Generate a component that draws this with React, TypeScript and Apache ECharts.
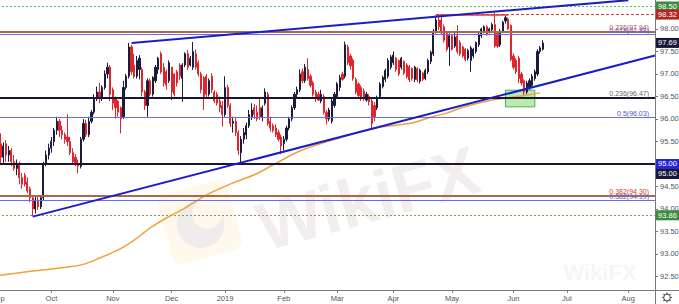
import React, { useEffect, useRef } from "react";
import * as echarts from "echarts";

// ---------- data ----------
const START_DAY = "2018-09-03";
const END_DAY = "2019-08-15";
const HOLIDAYS = ["2018-12-25", "2019-01-01"];

const monthTickDates = ["2018-09-03", "2018-10-01", "2018-11-01", "2018-12-03", "2019-01-02", "2019-02-01", "2019-03-01", "2019-04-01", "2019-05-01", "2019-06-03", "2019-07-01", "2019-08-01"];
const monthTickLabels = ["Sep", "Oct", "Nov", "Dec", "2019", "Feb", "Mar", "Apr", "May", "Jun", "Jul", "Aug"];
const yTickValues = [92.5, 93, 93.5, 94, 94.5, 95, 95.5, 96, 96.5, 97, 97.5, 98, 98.5];
// tick labels that are not hidden behind a price badge
const yLabelValues = [92.5, 93, 93.5, 94, 94.5, 95.5, 96, 96.5, 97, 97.5, 98];

// [open, close, low, high]
const candles = [
  [95.20, 95.45, 95.10, 95.55], [95.45, 95.15, 95.02, 95.68], [95.15, 95.40, 95.00, 95.48], [95.45, 95.20, 95.05, 95.53], [95.20, 95.30, 95.05, 95.40],
  [95.30, 95.05, 94.95, 95.35], [95.05, 94.90, 94.85, 95.20], [94.90, 95.00, 94.75, 95.10], [95.00, 94.70, 94.55, 95.05], [94.70, 94.55, 94.45, 94.80],
  [94.75, 94.55, 94.50, 94.80], [94.60, 94.40, 94.35, 94.70], [94.45, 94.25, 94.15, 94.50], [94.25, 94.00, 93.84, 94.30], [94.00, 94.20, 93.90, 94.30],
  [94.20, 94.05, 93.98, 94.30], [94.05, 94.25, 94.00, 94.30], [94.25, 95.00, 94.20, 95.05], [95.00, 95.20, 94.95, 95.30], [95.20, 95.35, 95.10, 95.45],
  [95.35, 95.50, 95.25, 95.60], [95.50, 95.75, 95.40, 95.80], [95.75, 95.95, 95.65, 96.05], [95.95, 95.75, 95.60, 96.00], [95.75, 95.65, 95.55, 95.85],
  [95.65, 95.55, 95.45, 95.70], [95.60, 95.50, 95.40, 96.10], [95.50, 95.25, 95.20, 95.60], [95.25, 95.05, 95.00, 95.35], [95.15, 95.00, 94.95, 95.22],
  [95.00, 94.95, 94.79, 95.10], [94.95, 95.55, 94.90, 95.60], [95.55, 95.90, 95.50, 96.00], [95.90, 95.65, 95.60, 95.98], [95.65, 95.95, 95.60, 96.05],
  [95.95, 96.15, 95.90, 96.20], [96.15, 96.45, 96.10, 96.55], [96.45, 96.60, 96.40, 96.72], [96.60, 96.45, 96.35, 96.80], [96.45, 96.70, 96.40, 96.75],
  [96.70, 97.00, 96.65, 97.08], [97.00, 97.15, 96.90, 97.25], [97.15, 96.55, 96.40, 97.20], [96.65, 96.35, 96.20, 96.70], [96.45, 96.25, 96.01, 96.50],
  [96.40, 96.15, 96.05, 96.42], [96.25, 96.00, 95.68, 96.28], [96.05, 96.70, 96.00, 96.85], [96.70, 96.95, 96.65, 97.00], [96.95, 97.60, 96.90, 97.69],
  [97.60, 97.05, 96.98, 97.65], [97.20, 96.95, 96.90, 97.45], [96.95, 97.30, 96.90, 97.40], [97.10, 97.35, 96.88, 97.42], [97.10, 96.60, 96.50, 97.15],
  [96.60, 96.30, 96.20, 96.65], [96.30, 96.85, 96.05, 96.90], [96.85, 96.55, 96.50, 96.90], [96.55, 96.92, 96.50, 96.95], [96.85, 97.15, 96.80, 97.20],
  [97.10, 97.35, 97.00, 97.38], [97.45, 97.05, 97.00, 97.50], [97.15, 96.80, 96.72, 97.24], [97.05, 96.75, 96.65, 97.10], [96.85, 97.25, 96.80, 97.30],
  [97.15, 96.60, 96.42, 97.16], [97.00, 96.55, 96.50, 97.02], [97.05, 96.80, 96.72, 97.09], [97.20, 96.95, 96.87, 97.24], [96.90, 97.20, 96.38, 97.24],
  [97.20, 97.45, 97.15, 97.48], [97.45, 97.15, 97.09, 97.53], [97.20, 97.35, 97.17, 97.40], [97.15, 97.50, 97.09, 97.71], [97.45, 97.15, 97.10, 97.55],
  [97.25, 97.00, 96.94, 97.30], [97.00, 96.65, 96.57, 97.05], [96.92, 96.50, 96.20, 96.95], [96.95, 96.55, 96.48, 97.00], [96.55, 96.85, 96.50, 96.90],
  [96.95, 96.65, 96.58, 97.02], [96.60, 96.40, 96.35, 96.64], [96.55, 96.35, 96.30, 96.60], [96.40, 96.25, 96.15, 96.50], [96.30, 96.10, 95.83, 96.40],
  [96.10, 96.70, 96.05, 96.95], [96.70, 96.30, 96.25, 96.76], [96.30, 95.90, 95.82, 96.35], [95.90, 95.95, 95.70, 96.05], [95.95, 95.70, 95.62, 96.05],
  [95.70, 95.30, 95.20, 95.75], [95.25, 95.55, 95.03, 95.62], [95.55, 95.70, 95.45, 95.80], [95.65, 95.85, 95.55, 95.92], [95.85, 96.10, 95.80, 96.20],
  [96.05, 96.20, 95.98, 96.35], [96.25, 96.10, 96.00, 96.33], [96.15, 96.00, 95.95, 96.30], [96.25, 96.05, 95.98, 96.45], [96.05, 96.25, 95.95, 96.30],
  [96.35, 96.60, 96.30, 96.68], [96.55, 95.90, 95.85, 96.60], [95.95, 95.80, 95.72, 96.05], [95.85, 95.75, 95.70, 95.90], [95.80, 95.65, 95.60, 95.88],
  [95.70, 95.55, 95.50, 95.76], [95.60, 95.40, 95.22, 95.65], [95.45, 95.55, 95.30, 95.62], [95.55, 95.80, 95.50, 95.85], [95.80, 96.00, 95.75, 96.05],
  [96.00, 96.25, 95.95, 96.30], [96.25, 96.55, 96.20, 96.60], [96.55, 96.65, 96.45, 96.72], [96.65, 97.00, 96.60, 97.10], [97.05, 96.85, 96.80, 97.12],
  [96.85, 97.15, 96.80, 97.22], [97.10, 96.90, 96.85, 97.35], [96.95, 96.75, 96.70, 97.00], [96.80, 96.55, 96.50, 96.85], [96.60, 96.45, 96.38, 96.65],
  [96.55, 96.42, 96.40, 96.60], [96.40, 96.55, 96.35, 96.65], [96.50, 96.15, 96.10, 96.55], [96.15, 96.00, 95.88, 96.20], [96.00, 96.20, 95.95, 96.25],
  [95.95, 96.40, 95.90, 96.45], [96.30, 96.55, 96.25, 96.60], [96.50, 96.78, 96.45, 96.82], [96.70, 96.92, 96.62, 96.98], [97.00, 96.88, 96.85, 97.05],
  [96.95, 97.65, 96.90, 97.72], [97.60, 97.25, 97.20, 97.65], [97.40, 97.18, 97.10, 97.45], [97.30, 96.90, 96.85, 97.35], [96.88, 96.60, 96.55, 96.92],
  [96.78, 96.52, 96.48, 96.82], [96.70, 96.45, 96.40, 96.75], [96.62, 96.45, 96.40, 96.68], [96.42, 96.55, 96.38, 96.60], [96.50, 96.38, 96.30, 96.55],
  [96.40, 95.90, 95.78, 96.45], [96.30, 96.05, 95.95, 96.38], [96.25, 96.48, 96.20, 96.52], [96.50, 96.78, 96.45, 96.82], [96.72, 96.92, 96.68, 96.96],
  [96.88, 97.08, 96.82, 97.12], [96.95, 97.30, 96.90, 97.35], [97.15, 97.38, 97.10, 97.42], [97.25, 97.42, 97.20, 97.50], [97.35, 97.10, 97.05, 97.38],
  [97.30, 97.00, 96.95, 97.32], [97.15, 97.35, 97.10, 97.38], [97.28, 97.02, 96.98, 97.30], [97.20, 96.94, 96.90, 97.24], [97.16, 96.87, 96.82, 97.20],
  [97.12, 96.90, 96.85, 97.15], [96.88, 97.15, 96.82, 97.18], [97.12, 96.87, 96.82, 97.15], [96.84, 97.08, 96.79, 97.12], [97.02, 96.88, 96.84, 97.05],
  [96.90, 97.08, 96.86, 97.12], [97.05, 97.30, 97.00, 97.34], [97.28, 97.48, 97.22, 97.52], [97.45, 97.95, 97.40, 98.00], [97.95, 98.20, 97.90, 98.30],
  [98.20, 98.05, 97.98, 98.33], [98.20, 97.92, 97.88, 98.28], [98.05, 97.75, 97.70, 98.10], [97.90, 97.55, 97.50, 97.92], [97.60, 97.85, 97.18, 97.90],
  [97.85, 97.55, 97.52, 97.88], [97.62, 97.82, 97.58, 97.92], [97.85, 97.50, 97.45, 98.08], [97.70, 97.45, 97.40, 97.75], [97.60, 97.40, 97.36, 97.63],
  [97.55, 97.32, 97.28, 97.58], [97.35, 97.52, 97.30, 97.56], [97.30, 97.58, 97.05, 97.62], [97.40, 97.55, 97.35, 97.58], [97.50, 97.70, 97.45, 97.72],
  [97.65, 97.88, 97.60, 97.92], [97.85, 98.00, 97.80, 98.03], [97.95, 98.05, 97.90, 98.08], [98.05, 97.88, 97.85, 98.08], [97.92, 98.00, 97.90, 98.03],
  [97.98, 98.10, 97.95, 98.14], [98.10, 97.62, 97.58, 98.37], [97.90, 97.62, 97.58, 97.95], [97.65, 97.95, 97.60, 98.00], [97.95, 98.15, 97.92, 98.18],
  [98.18, 98.25, 98.12, 98.30], [98.22, 98.00, 97.98, 98.25], [98.08, 97.32, 97.28, 98.10], [97.40, 97.15, 97.10, 97.46], [97.30, 97.05, 97.00, 97.35],
  [97.35, 96.90, 96.80, 97.40], [97.00, 96.80, 96.75, 97.05], [96.85, 96.60, 96.53, 96.88], [96.60, 96.80, 96.55, 96.85], [96.70, 96.85, 96.65, 96.90],
  [96.75, 96.95, 96.70, 97.00], [96.90, 97.05, 96.85, 97.10], [97.00, 97.50, 96.95, 97.55], [97.50, 97.58, 97.45, 97.62], [97.55, 97.69, 97.52, 97.75],
];

// 200-day moving average, read at sample bars
const maIdx = [0, 13, 26, 32, 38, 45, 51, 57, 63, 70, 78, 88, 96, 103, 113, 128, 141, 155, 162, 168, 173, 185, 196, 203];
const maVal = [92.52, 92.62, 92.71, 92.77, 92.91, 93.09, 93.31, 93.58, 93.80, 94.02, 94.31, 94.58, 94.76, 94.98, 95.29, 95.58, 95.80, 95.91, 96.04, 96.13, 96.24, 96.42, 96.51, 96.58];

const fibValues = [97.94, 97.88, 96.47, 96.03, 94.30, 94.19];
const fibLabels = ["0.236(97.94)", "0.618(97.88)", "0.236(96.47)", "0.5(96.03)", "0.382(94.30)", "0.382(94.19)"];
const levelValues = [98.50, 95.00, 93.86];
const resistanceValue = 98.32;
const resistanceIdx = [164, 191];
const lowerTrendIdx = [13, 246];
const lowerTrendVal = [93.83, 97.41];
const upperTrendIdx = [50, 236];
const upperTrendVal = [97.69, 98.64];
const zoneIdx = [190, 201];
const zoneVal = [96.64, 96.27];
const badgeValues = [98.50, 98.32, 97.69, 95.00, 95.00, 93.86];
const badgeTexts = ["98.50", "98.32", "97.69", "95.00", "95.00", "93.86"];

// ---------- styles ----------
const FONT = "'Liberation Sans', Arial, sans-serif";
const fibStyles = [
  { line: "#a86a4f", w: 2, text: "#c0504d" },
  { line: "#6b6bef", w: 1, text: "#6464c8" },
  { line: "#17172f", w: 2, text: "#666666" },
  { line: "#6b6bef", w: 1, text: "#5555cc" },
  { line: "#a86a4f", w: 2, text: "#d0402c" },
  { line: "#6b6bef", w: 1, text: "#6464c8" },
];
const levelStyles = [
  { color: "#66bb6a", type: [2, 2] as any, width: 1 },
  { color: "#17172f", type: "solid", width: 2 },
  { color: "#8a9a5b", type: [2, 2] as any, width: 1 },
];
const badgeStyles = [
  { bg: "#3d8b40", dy: 0 },
  { bg: "#b3261e", dy: 0 },
  { bg: "#17173a", dy: 0 },
  { bg: "#2727d0", dy: 0 },
  { bg: "#17173a", dy: 10 },
  { bg: "#3d8b40", dy: 0 },
];

function buildDays(): string[] {
  const out: string[] = [];
  const d = new Date(START_DAY + "T00:00:00Z");
  const end = new Date(END_DAY + "T00:00:00Z");
  while (d.getTime() <= end.getTime()) {
    const wd = d.getUTCDay();
    const s = d.toISOString().slice(0, 10);
    if (wd !== 0 && wd !== 6 && HOLIDAYS.indexOf(s) < 0) out.push(s);
    d.setUTCDate(d.getUTCDate() + 1);
  }
  return out;
}

export default function App() {
  const ref = useRef<HTMLDivElement>(null);
  useEffect(() => {
    document.body.style.margin = "0";
    const days = buildDays();
    const chart = echarts.init(ref.current as HTMLDivElement, null, { renderer: "svg" });

    const markLineData: any[] = [];
    markLineData.push({ yAxis: 95.0, lineStyle: { color: "#4a4ae0", width: 1, type: "solid" } });
    fibValues.forEach((v, k) => {
      markLineData.push({ yAxis: v, lineStyle: { color: fibStyles[k].line, width: fibStyles[k].w, type: "solid" } });
    });
    levelValues.forEach((v, k) => {
      const s = levelStyles[k];
      markLineData.push({ yAxis: v, lineStyle: { color: s.color, width: s.width, type: s.type } });
    });
    markLineData.push([
      { coord: [days[resistanceIdx[0]], resistanceValue], lineStyle: { color: "#e53935", width: 1, type: [3, 2] } },
      { coord: [days[days.length - 1], resistanceValue] },
    ]);
    markLineData.push([
      { coord: [days[resistanceIdx[0]], resistanceValue], lineStyle: { color: "#e53935", width: 1.5, type: "solid" } },
      { coord: [days[resistanceIdx[1]], resistanceValue] },
    ]);
    markLineData.push([
      { coord: [days[lowerTrendIdx[0]], lowerTrendVal[0]], lineStyle: { color: "#1c1cc8", width: 2, type: "solid" } },
      { coord: [days[lowerTrendIdx[1]], lowerTrendVal[1]] },
    ]);
    markLineData.push([
      { coord: [days[upperTrendIdx[0]], upperTrendVal[0]], lineStyle: { color: "#1c1cc8", width: 2, type: "solid" } },
      { coord: [days[upperTrendIdx[1]], upperTrendVal[1]] },
    ]);

    const option: any = {
      animation: false,
      backgroundColor: "#ffffff",
      grid: { left: -2, right: 24, top: 0, bottom: 14, containLabel: false, outerBoundsMode: "none" },
      xAxis: {
        type: "category",
        data: days,
        boundaryGap: false,
        axisLine: { show: true, lineStyle: { color: "#7a7a7a", width: 1 } },
        axisTick: {
          show: true,
          length: 3,
          interval: (_i: number, v: string) => monthTickDates.indexOf(v) >= 0,
          lineStyle: { color: "#7a7a7a" },
        },
        axisLabel: {
          interval: (_i: number, v: string) => monthTickDates.indexOf(v) >= 0,
          formatter: (v: string) => monthTickLabels[monthTickDates.indexOf(v)] || "",
          fontSize: 7.5,
          color: "#555",
          margin: 4,
          fontFamily: FONT,
        },
        splitLine: { show: false },
      },
      yAxis: {
        type: "value",
        position: "right",
        min: 92.2,
        max: 98.644,
        scale: true,
        axisLine: { show: true, lineStyle: { color: "#7a7a7a", width: 1 } },
        axisTick: { show: true, length: 3, customValues: yTickValues, lineStyle: { color: "#7a7a7a" } },
        axisLabel: {
          customValues: yLabelValues,
          formatter: (v: number) => v.toFixed(2),
          fontSize: 7.5,
          color: "#555",
          margin: 5,
          fontFamily: FONT,
        },
        splitLine: { show: false },
      },
      series: [
        {
          type: "candlestick",
          data: candles,
          barWidth: "62%",
          z: 3,
          itemStyle: {
            color: "#1b1b3b",
            color0: "#e0262c",
            borderColor: "#1b1b3b",
            borderColor0: "#e0262c",
            borderWidth: 1,
          },
          markLine: {
            silent: true,
            symbol: ["none", "none"],
            label: { show: false },
            data: markLineData,
          },
          markArea: {
            silent: true,
            itemStyle: { color: "rgba(125,220,110,0.55)", borderColor: "#4caf50", borderWidth: 1 },
            data: [[
              { coord: [days[zoneIdx[0]], zoneVal[0]] },
              { coord: [days[zoneIdx[1]], zoneVal[1]] },
            ]],
          },
        },
        {
          type: "line",
          data: maIdx.map((i, k) => [days[i], maVal[k]]),
          smooth: 0.3,
          showSymbol: false,
          symbol: "none",
          z: 2,
          lineStyle: { color: "#f2a03a", width: 1.5 },
        },
      ],
    };
    chart.setOption(option);

    const elements: any[] = [];
    // watermark
    elements.push({
      type: "group",
      x: 200,
      y: 222,
      rotation: 0.27,
      z: 0,
      children: [
        { type: "rect", shape: { x: -36, y: -36, width: 72, height: 72, r: 10 }, style: { fill: "#fef9ec" }, z: 0 },
        { type: "circle", shape: { cx: 0, cy: 2, r: 24 }, style: { fill: "#efecec" }, z: 0 },
        { type: "circle", shape: { cx: 9, cy: -6, r: 15 }, style: { fill: "#fef9ec" }, z: 0 },
      ],
    });
    elements.push({
      type: "text",
      x: 368,
      y: 198,
      rotation: 0.27,
      z: 0,
      style: { text: "WikiFX", fontSize: 68, fontWeight: "bold", fontFamily: FONT, fill: "#f3eeee", textAlign: "center", textVerticalAlign: "middle", align: "center", verticalAlign: "middle" },
    });
    elements.push({
      type: "text",
      x: 600,
      y: 272,
      z: 0,
      style: { text: "WikiFX", fontSize: 22, fontWeight: "bold", fontFamily: FONT, fill: "#f6f6f6", textAlign: "center", textVerticalAlign: "middle", align: "center", verticalAlign: "middle" },
    });

    // fib labels
    fibValues.forEach((v, k) => {
      const py = chart.convertToPixel({ yAxisIndex: 0 }, v) as number;
      elements.push({
        type: "text",
        x: 649,
        y: py - 0.5,
        z: 50,
        style: { text: fibLabels[k], fontSize: 7, fontFamily: FONT, fill: fibStyles[k].text, textAlign: "right", textVerticalAlign: "bottom", align: "right", verticalAlign: "bottom" },
      });
    });

    // price badges on the right axis
    const gx = 656;
    const bw = 23;
    const bh = 10;
    badgeValues.forEach((v, k) => {
      const py = (chart.convertToPixel({ yAxisIndex: 0 }, v) as number) + badgeStyles[k].dy;
      elements.push({ type: "rect", shape: { x: gx, y: py - bh / 2, width: bw, height: bh }, style: { fill: badgeStyles[k].bg }, z: 100 });
      elements.push({
        type: "text",
        x: gx + bw / 2,
        y: py,
        z: 101,
        style: { text: badgeTexts[k], fontSize: 7.5, fontFamily: FONT, fill: "#ffffff", textAlign: "center", textVerticalAlign: "middle", align: "center", verticalAlign: "middle" },
      });
    });

    // corner separators and gear
    elements.push({ type: "line", shape: { x1: 655.5, y1: 290, x2: 655.5, y2: 304 }, style: { stroke: "#7a7a7a", lineWidth: 1 }, z: 100 });
    elements.push({ type: "line", shape: { x1: 655, y1: 290.5, x2: 679, y2: 290.5 }, style: { stroke: "#7a7a7a", lineWidth: 1 }, z: 100 });
    const gcx = 667;
    const gcy = 297.5;
    for (let a = 0; a < 8; a++) {
      const ang = (a * Math.PI) / 4;
      elements.push({
        type: "line",
        shape: { x1: gcx + Math.cos(ang) * 3, y1: gcy + Math.sin(ang) * 3, x2: gcx + Math.cos(ang) * 5, y2: gcy + Math.sin(ang) * 5 },
        style: { stroke: "#555", lineWidth: 1.2 },
        z: 100,
      });
    }
    elements.push({ type: "circle", shape: { cx: gcx, cy: gcy, r: 3.3 }, style: { fill: "#fff", stroke: "#555", lineWidth: 1.1 }, z: 101 });

    chart.setOption({ graphic: { elements } });

    return () => chart.dispose();
  }, []);
  return <div ref={ref} style={{ width: 679, height: 304, position: "absolute", left: 0, top: 0, background: "#fff" }} />;
}
